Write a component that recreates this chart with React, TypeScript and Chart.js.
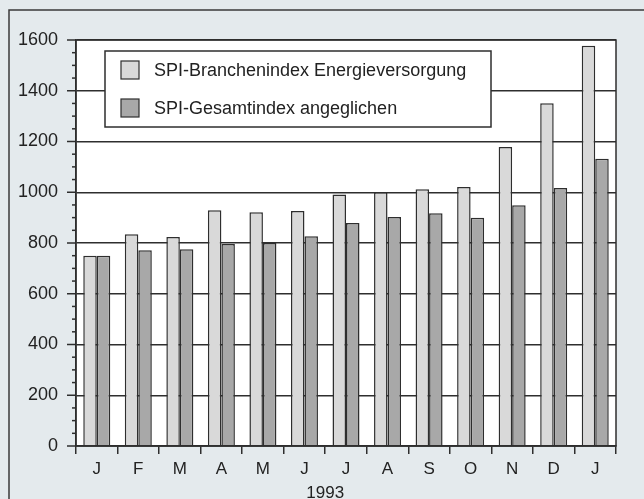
import React, { useEffect, useRef } from "react";
import { Chart, registerables } from "chart.js";

Chart.register(...registerables);

const months = ["J", "F", "M", "A", "M", "J", "J", "A", "S", "O", "N", "D", "J"];
const energieLabel = "SPI-Branchenindex Energieversorgung";
const gesamtLabel = "SPI-Gesamtindex angeglichen";
const energie = [750, 834, 824, 929, 921, 926, 991, 1000, 1012, 1021, 1178, 1351, 1577];
const gesamt = [750, 771, 775, 796, 800, 827, 879, 902, 917, 900, 949, 1017, 1132];
const yearLabel = "1993";

const BG = "#e4eaed";
const INK = "#2e2e2e";
const LIGHT = "#d9d9d9";
const DARK = "#a8a8a8";
const FONT = "'Liberation Sans', Arial, Helvetica, sans-serif";

const framePlugin = {
  id: "framePlugin",
  beforeDraw(chart: any) {
    const { ctx, chartArea, width, height } = chart;
    ctx.save();
    ctx.fillStyle = BG;
    ctx.fillRect(0, 0, width, height);
    ctx.strokeStyle = "#3a3a3a";
    ctx.lineWidth = 1.5;
    ctx.beginPath();
    ctx.moveTo(9, height + 2);
    ctx.lineTo(9, 10);
    ctx.lineTo(width + 2, 10);
    ctx.stroke();
    ctx.fillStyle = "#ffffff";
    ctx.fillRect(chartArea.left, chartArea.top, chartArea.right - chartArea.left, chartArea.bottom - chartArea.top);
    ctx.restore();
  },
  afterDatasetsDraw(chart: any) {
    const { ctx, chartArea, scales } = chart;
    const y = scales.y;
    ctx.save();
    ctx.strokeStyle = INK;
    ctx.lineWidth = 1.5;
    ctx.strokeRect(chartArea.left, chartArea.top, chartArea.right - chartArea.left, chartArea.bottom - chartArea.top);
    // y minor / major ticks
    for (let v = 0; v <= 1600; v += 50) {
      const py = y.getPixelForValue(v);
      const len = v % 200 === 0 ? 9 : 4;
      ctx.beginPath();
      ctx.moveTo(chartArea.left - len, py);
      ctx.lineTo(chartArea.left, py);
      ctx.stroke();
    }
    // legend
    const bx = 105, by = 51, bw = 386, bh = 76;
    ctx.fillStyle = "#ffffff";
    ctx.fillRect(bx, by, bw, bh);
    ctx.strokeRect(bx, by, bw, bh);
    const items = [
      { label: chart.data.datasets[0].label, color: chart.data.datasets[0].backgroundColor, cy: 70 },
      { label: chart.data.datasets[1].label, color: chart.data.datasets[1].backgroundColor, cy: 108 },
    ];
    ctx.font = `18px ${FONT}`;
    ctx.textBaseline = "middle";
    ctx.textAlign = "left";
    for (const it of items) {
      ctx.fillStyle = it.color;
      ctx.fillRect(121, it.cy - 9, 18, 18);
      ctx.lineWidth = 1.2;
      ctx.strokeStyle = INK;
      ctx.strokeRect(121, it.cy - 9, 18, 18);
      ctx.fillStyle = "#222";
      ctx.fillText(it.label, 154, it.cy + 1);
    }
    ctx.restore();
  },
  afterDraw(chart: any) {
    const { ctx, scales } = chart;
    const x = scales.x;
    ctx.save();
    ctx.font = `17px ${FONT}`;
    ctx.fillStyle = "#222";
    ctx.textAlign = "center";
    ctx.textBaseline = "middle";
    ctx.fillText(yearLabel, x.getPixelForValue(5.5), 493);
    ctx.restore();
  },
};

export default function App() {
  const ref = useRef<HTMLCanvasElement | null>(null);

  useEffect(() => {
    document.body.style.margin = "0";
    document.body.style.overflow = "hidden";
    const canvas = ref.current;
    if (!canvas) return;
    const chart = new Chart(canvas, {
      type: "bar",
      data: {
        labels: months,
        datasets: [
          {
            label: energieLabel,
            data: energie,
            backgroundColor: LIGHT,
            borderColor: INK,
            borderWidth: 1.5,
            categoryPercentage: 0.65,
            barPercentage: 1.0,
          },
          {
            label: gesamtLabel,
            data: gesamt,
            backgroundColor: DARK,
            borderColor: INK,
            borderWidth: 1.5,
            categoryPercentage: 0.65,
            barPercentage: 1.0,
          },
        ],
      },
      options: {
        responsive: false,
        animation: false,
        devicePixelRatio: 1,
        layout: { padding: { top: 40, right: 28, left: 0, bottom: 0 } },
        plugins: {
          legend: { display: false },
          tooltip: { enabled: false },
          title: { display: false },
        },
        scales: {
          x: {
            afterFit: (s: any) => {
              s.height = 53;
            },
            grid: {
              offset: true,
              drawOnChartArea: false,
              drawTicks: true,
              tickLength: 8,
              color: INK,
              lineWidth: 1.5,
            },
            border: { display: true, color: INK, width: 1.5 },
            ticks: {
              color: "#222",
              font: { family: FONT, size: 17 },
              padding: 5,
              maxRotation: 0,
              autoSkip: false,
            },
          },
          y: {
            min: 0,
            max: 1600,
            afterFit: (s: any) => {
              s.width = 76;
            },
            grid: {
              color: INK,
              lineWidth: 1.5,
              drawTicks: false,
            },
            border: { display: true, color: INK, width: 1.5 },
            ticks: {
              stepSize: 200,
              color: "#222",
              font: { family: FONT, size: 18 },
              padding: 18,
              callback: (v: any) => String(v),
            },
          },
        },
      },
      plugins: [framePlugin],
    } as any);
    return () => chart.destroy();
  }, []);

  return (
    <div style={{ width: 644, height: 499, overflow: "hidden" }}>
      <canvas ref={ref} width={644} height={499} style={{ display: "block", width: 644, height: 499 }} />
    </div>
  );
}
